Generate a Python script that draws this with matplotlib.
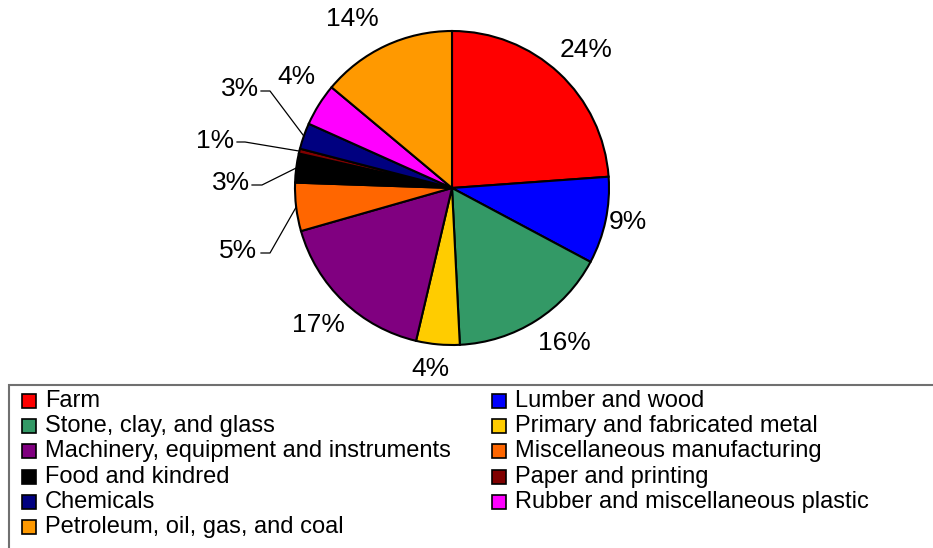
import numpy as np
import matplotlib.pyplot as plt
from matplotlib.patches import Rectangle

plt.rcParams['font.family'] = ['Liberation Sans', 'DejaVu Sans']

# data (clockwise from 12 o'clock)
categories = ["Farm", "Lumber and wood", "Stone, clay, and glass",
              "Primary and fabricated metal", "Machinery, equipment and instruments",
              "Miscellaneous manufacturing", "Food and kindred", "Paper and printing",
              "Chemicals", "Rubber and miscellaneous plastic",
              "Petroleum, oil, gas, and coal"]
shares = [24, 9, 16.5, 4.5, 17, 5, 3, 0.5, 2.7, 4.4, 14]
pct_labels = ["24%", "9%", "16%", "4%", "17%", "5%", "3%", "1%", "3%", "4%", "14%"]
colors = ["#FF0000", "#0000FF", "#339966", "#FFCC00", "#800080", "#FF6600",
          "#000000", "#800000", "#000080", "#FF00FF", "#FF9900"]

W, H = 933, 548
fig = plt.figure(figsize=(W / 100, H / 100), dpi=100)
ax = fig.add_axes([0, 0, 1, 1])

def Y(py):
    return H - py

cx, cy, r = 452, Y(188), 157
wedges, _ = ax.pie(shares, colors=colors, startangle=90, counterclock=False,
                   center=(cx, cy), radius=r, frame=True,
                   wedgeprops=dict(edgecolor='black', linewidth=1.5))
ax.set_xlim(0, W)
ax.set_ylim(0, H)
ax.axis('off')

# label positions (pixel coords) and leader-line elbows for the small slices
label_pos = [(586, 50), (628, 222), (564, 343), (430, 369), (318, 325),
             (238, 251), (231, 183), (215, 141), (240, 89), (296, 77), (352, 19)]
elbows = {5: ((261, 253), (270, 253)), 6: ((252, 185), (262, 185)),
          7: ((237, 142), (245, 142)), 8: ((261, 91), (270, 91))}

for i, (w, lab) in enumerate(zip(wedges, pct_labels)):
    x, py = label_pos[i]
    ax.text(x, Y(py), lab, fontsize=19, ha='center', va='center')
    if i in elbows:
        a = np.deg2rad((w.theta1 + w.theta2) / 2)
        ex, ey = cx + r * np.cos(a), cy + r * np.sin(a)
        (x0, y0), (x1, y1) = elbows[i]
        ax.plot([x0, x1, ex], [Y(y0), Y(y1), ey], color='black', lw=0.9)

# legend box (runs off the right and bottom edges)
ax.add_patch(Rectangle((9, Y(560)), 940, 175, facecolor='none',
                       edgecolor='#707070', lw=1.5, clip_on=False))
for i, (name, c) in enumerate(zip(categories, colors)):
    row, col = i // 2, i % 2
    mx = 22 + col * 470
    my = 401 + row * 25.2
    ax.add_patch(Rectangle((mx, Y(my) - 7), 14, 14, facecolor=c,
                           edgecolor='black', lw=1.2))
    ax.text(mx + 23, Y(my), name, fontsize=17, ha='left', va='center')

fig.savefig("out.png", dpi=100)
